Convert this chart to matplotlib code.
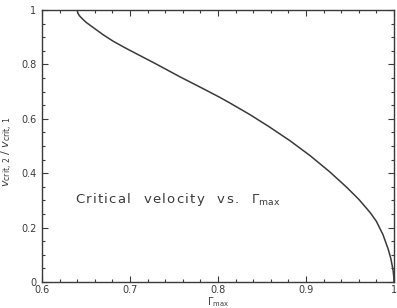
import matplotlib
matplotlib.use("Agg")
import matplotlib.pyplot as plt
from matplotlib.ticker import MultipleLocator

# Values
gamma_max = [0.6400, 0.6406, 0.6423, 0.6451, 0.650, 0.658, 0.670, 0.681,
             0.695, 0.711, 0.730, 0.757, 0.780, 0.802, 0.8136, 0.836,
             0.859, 0.882, 0.9045, 0.927, 0.946, 0.960, 0.973, 0.980,
             0.9875, 0.9935, 0.9965, 0.999, 0.9998, 1.000]
v_ratio = [1.000, 0.990, 0.980, 0.970, 0.955, 0.936, 0.908, 0.885,
           0.860, 0.833, 0.801, 0.754, 0.716, 0.679, 0.658, 0.616,
           0.569, 0.519, 0.465, 0.405, 0.349, 0.304, 0.255, 0.223,
           0.174, 0.120, 0.085, 0.042, 0.018, 0.000]

x_ticks = [0.6, 0.7, 0.8, 0.9, 1.0]
x_labels = ["0.6", "0.7", "0.8", "0.9", "1"]
y_ticks = [0, 0.2, 0.4, 0.6, 0.8, 1.0]
y_labels = ["0", "0.2", "0.4", "0.6", "0.8", "1"]

ink = "#3a3a3a"
plt.rcParams["font.family"] = ["DejaVu Sans"]

fig = plt.figure(figsize=(3.97, 3.08), dpi=100)
ax = fig.add_axes([0.1058, 0.0844, 0.8866, 0.8831])

ax.plot(gamma_max, v_ratio, color=ink, lw=1.1)

ax.set_xlim(0.6, 1.0)
ax.set_ylim(0, 1.0)
ax.set_xticks(x_ticks)
ax.set_xticklabels(x_labels)
ax.set_yticks(y_ticks)
ax.set_yticklabels(y_labels)
ax.xaxis.set_minor_locator(MultipleLocator(0.02))
ax.yaxis.set_minor_locator(MultipleLocator(0.05))
ax.tick_params(which="both", direction="in", top=True, right=True,
               color=ink, width=0.8, labelsize=7, labelcolor=ink)
ax.tick_params(axis="x", pad=2.5)
ax.tick_params(axis="y", pad=4)
ax.tick_params(which="major", length=4.5)
ax.tick_params(which="minor", length=2.5)
for s in ax.spines.values():
    s.set_color(ink)
    s.set_linewidth(1.0)

ax.set_xlabel(r"$\Gamma_{\rm max}$", fontsize=7, color=ink)
ax.xaxis.set_label_coords(0.5, -0.047)
ax.set_ylabel(r"$v_{\rm crit,\,2}\;/\;v_{\rm crit,\,1}$", fontsize=8,
              color=ink)
ax.yaxis.set_label_coords(-0.076, 0.48)

words = ["Critical", "velocity", "vs."]
caption = "   ".join("\u200a".join(w) for w in words)
ax.text(0.6375, 0.305, caption + "   " + r"$\Gamma_{\rm max}$",
        fontsize=9.5, color=ink, va="center", ha="left")

fig.savefig("out.png", dpi=100)
